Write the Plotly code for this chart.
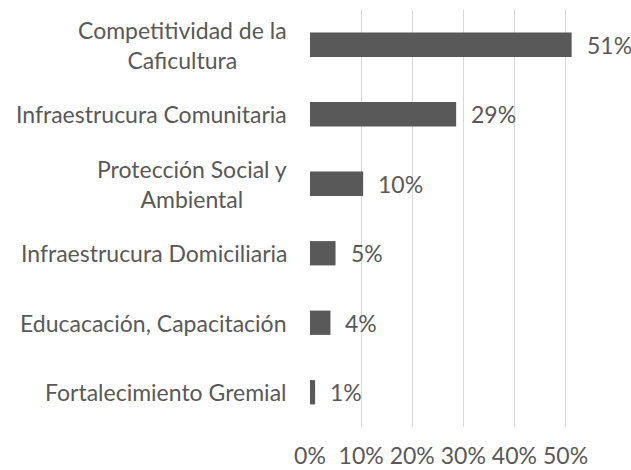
import plotly.graph_objects as go

categories = [
    "Competitividad de la<br>Caficultura",
    "Infraestrucura Comunitaria",
    "Protección Social y<br>Ambiental",
    "Infraestrucura Domiciliaria",
    "Educacación, Capacitación",
    "Fortalecimiento Gremial",
]
values = [51.2, 28.6, 10.4, 5.0, 4.0, 1.0]
tick_vals = [0, 10, 20, 30, 40, 50]
tick_text = ["0%", "10%", "20%", "30%", "40%", "50%"]

GRAY = "#595959"
FONT = "Lato"
FS = 23

fig = go.Figure(
    go.Bar(
        x=values,
        y=categories,
        orientation="h",
        marker=dict(color=GRAY, line=dict(width=0)),
        width=0.35,
        cliponaxis=False,
        hoverinfo="skip",
    )
)

annotations = []
for c, v in zip(categories, values):
    annotations.append(dict(
        x=v, y=c, xref="x", yref="y", text=f"{v:.0f}%", showarrow=False,
        xanchor="left", yanchor="middle", xshift=13,
        font=dict(family=FONT, size=FS, color=GRAY),
    ))
    annotations.append(dict(
        x=0, y=c, xref="paper", yref="y", text=c, showarrow=False,
        xanchor="right", yanchor="middle", align="center", xshift=-21,
        font=dict(family=FONT, size=FS, color=GRAY),
    ))

fig.update_layout(
    width=631, height=470,
    margin=dict(l=310, r=20, t=10, b=43),
    paper_bgcolor="white", plot_bgcolor="white",
    showlegend=False,
    annotations=annotations,
    xaxis=dict(
        range=[0, 58.9], tickvals=tick_vals, ticktext=tick_text,
        showgrid=True, gridcolor="#d9d9d9", gridwidth=1,
        zeroline=False, showline=False, ticks="",
        ticklabelstandoff=13, automargin=False,
        tickfont=dict(family=FONT, size=FS, color=GRAY),
        fixedrange=True,
    ),
    yaxis=dict(
        categoryorder="array", categoryarray=categories,
        autorange="reversed", showticklabels=False, automargin=False,
        showgrid=False, zeroline=False, showline=False, ticks="",
        fixedrange=True,
    ),
)

fig.write_html(
    "out.html",
    config={"displayModeBar": False},
    post_script="document.body.style.margin='0';document.body.style.overflow='hidden';",
)
